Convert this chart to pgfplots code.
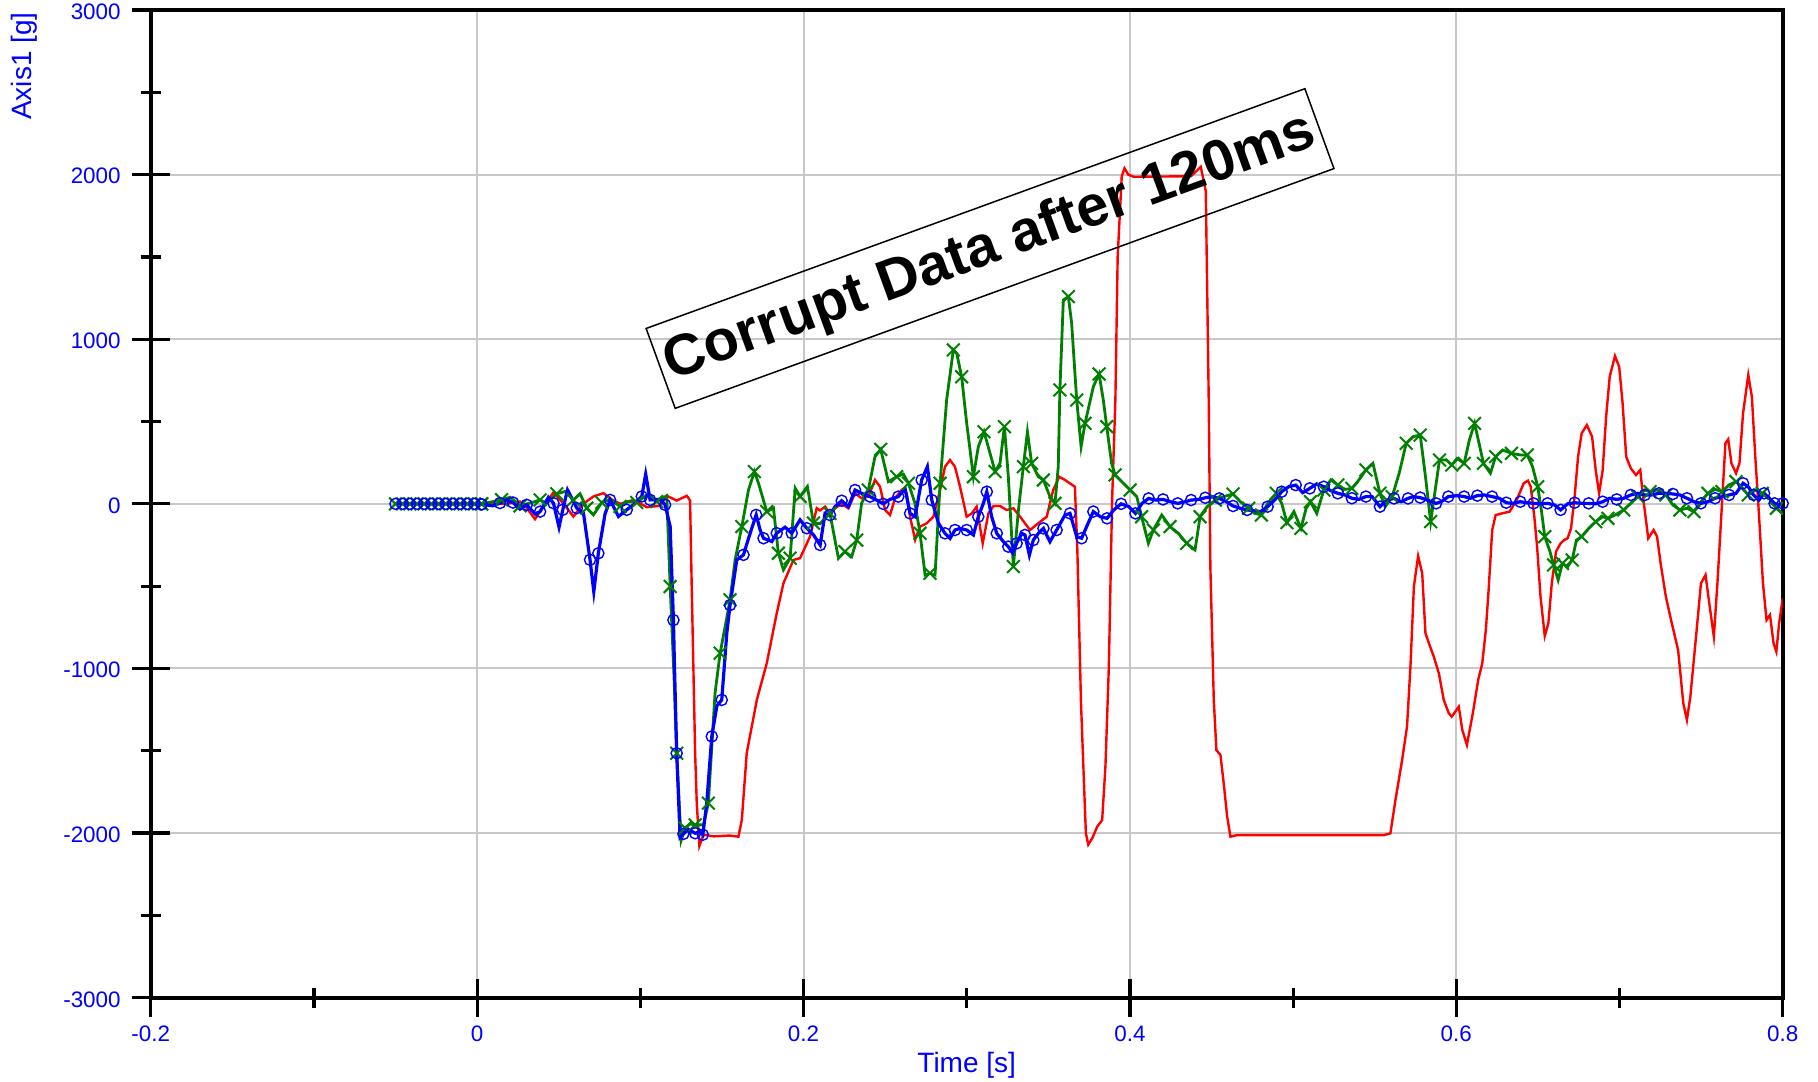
\documentclass[border=0pt]{standalone}
\usepackage{fontspec}
\setmainfont{Liberation Sans}
\usepackage{pgfplots}
\pgfplotsset{compat=1.18}
\definecolor{gridgray}{RGB}{200,200,200}
\definecolor{dgreen}{RGB}{0,128,0}
\begin{document}
\begin{tikzpicture}
\path[use as bounding box] (-75.35pt,-41.65pt) rectangle (833.65pt,498.85pt);
\begin{axis}[
  at={(0pt,0pt)}, anchor=south west,
  scale only axis, width=816pt, height=493.85pt,
  xmin=-0.2, xmax=0.8, ymin=-3000, ymax=3000,
  xtick={-0.2,0,0.2,0.4,0.6,0.8},
  ytick={-3000,-2000,-1000,0,1000,2000,3000},
  minor x tick num=1, minor y tick num=1,
  tick align=center, tick pos=left,
  major tick length=19pt, minor tick length=10pt,
  every tick/.style={black, line width=1.6pt},
  axis line style={line width=2pt, black},
  grid=major, major grid style={gridgray, line width=1pt},
  scaled ticks=false,
  /pgf/number format/assume math mode=true,
  /pgf/number format/1000 sep={},
  /pgf/number format/fixed,
  tick label style={font=\fontsize{11.2}{13}\selectfont, text=blue, inner sep=0pt},
  every x tick label/.append style={anchor=north, yshift=-4.35pt},
  every y tick label/.append style={anchor=east, xshift=-5.35pt, yshift=-0.8pt},
  xlabel={Time [s]}, ylabel={Axis1 [g]},
  every axis x label/.style={at={(axis description cs:0.5,-0.0759)}, anchor=base, inner sep=0pt, font=\fontsize{14}{16}\selectfont, text=blue},
  every axis y label/.style={at={(axis description cs:-0.0776,0.998)}, anchor=east, rotate=90, inner sep=0pt, font=\fontsize{14}{16}\selectfont, text=blue},
]
% red series
\addplot[red, line width=1.2pt] coordinates {
(-0.0500,0) (0.0180,0) (0.0230,10) (0.0263,14) (0.0300,-20) (0.0355,-93) (0.0410,-10) (0.0468,69)
(0.0530,0) (0.0590,-77) (0.0650,0) (0.0713,45) (0.0774,65) (0.0820,30) (0.0876,0) (0.0958,24)
(0.1040,-20) (0.1121,-12) (0.1162,49) (0.1223,20) (0.1285,49) (0.1305,20) (0.1315,-500) (0.1336,-1515)
(0.1346,-1820) (0.1362,-2078) (0.1387,-2010) (0.1450,-2020) (0.1550,-2015) (0.1601,-2022) (0.1622,-1921)
(0.1652,-1515) (0.1714,-1191) (0.1775,-968) (0.1836,-665) (0.1877,-483) (0.1938,-341) (0.1979,-330)
(0.2040,-198) (0.2081,-26) (0.2101,-40) (0.2132,-17) (0.2162,-58) (0.2193,-27) (0.2234,0) (0.2275,-27)
(0.2316,64) (0.2356,34) (0.2397,44) (0.2438,145) (0.2469,104) (0.2500,-37) (0.2530,-68) (0.2561,34)
(0.2601,84) (0.2632,64) (0.2653,-78) (0.2684,-219) (0.2714,-138) (0.2755,-118) (0.2796,-78) (0.2837,84)
(0.2867,226) (0.2898,266) (0.2928,226) (0.2959,104) (0.3000,-78) (0.3031,-58) (0.3061,-17) (0.3098,-240)
(0.3133,-58) (0.3164,-13) (0.3204,-13) (0.3245,-37) (0.3286,-27) (0.3327,-78) (0.3388,-159) (0.3439,-118)
(0.3490,-78) (0.3530,84) (0.3567,165) (0.3602,145) (0.3633,124) (0.3663,104) (0.3678,-280) (0.3700,-1200)
(0.3730,-2000) (0.3745,-2070) (0.3770,-2030) (0.3800,-1960) (0.3830,-1921) (0.3850,-1596) (0.3871,-987)
(0.3891,23) (0.3911,631) (0.3925,1500) (0.3950,1990) (0.3967,2038) (0.3990,2000) (0.4023,1987)
(0.4374,1990) (0.4434,2047) (0.4465,1900) (0.4483,631) (0.4493,-382) (0.4514,-1192) (0.4530,-1496)
(0.4555,-1526) (0.4575,-1700) (0.4596,-1900) (0.4616,-2022) (0.4657,-2012) (0.5556,-2012) (0.5596,-2002)
(0.5627,-1800) (0.5668,-1556) (0.5698,-1353) (0.5719,-989) (0.5740,-503) (0.5766,-317) (0.5791,-422)
(0.5811,-786) (0.5832,-847) (0.5862,-928) (0.5893,-1029) (0.5923,-1191) (0.5954,-1272) (0.5972,-1293)
(0.6015,-1232) (0.6037,-1374) (0.6065,-1465) (0.6101,-1273) (0.6134,-1070) (0.6159,-969) (0.6181,-766)
(0.6198,-523) (0.6220,-159) (0.6241,-68) (0.6284,-57) (0.6327,-47) (0.6370,23) (0.6413,125) (0.6439,141)
(0.6456,104) (0.6478,-78) (0.6495,-260) (0.6516,-564) (0.6542,-803) (0.6564,-726) (0.6585,-483)
(0.6611,-290) (0.6639,-240) (0.6660,-220) (0.6682,-209) (0.6703,-149) (0.6725,44) (0.6746,286)
(0.6768,428) (0.6800,479) (0.6832,408) (0.6854,206) (0.6875,64) (0.6897,206) (0.6918,530) (0.6940,772)
(0.6972,898) (0.6998,833) (0.7019,610) (0.7041,286) (0.7069,216) (0.7101,175) (0.7127,206) (0.7144,44)
(0.7176,-209) (0.7209,-159) (0.7230,-199) (0.7252,-362) (0.7284,-564) (0.7316,-706) (0.7359,-888)
(0.7391,-1212) (0.7413,-1313) (0.7434,-1171) (0.7467,-827) (0.7499,-483) (0.7527,-432) (0.7553,-625)
(0.7578,-807) (0.7600,-483) (0.7628,3) (0.7649,368) (0.7666,392) (0.7686,246) (0.7714,186) (0.7735,246)
(0.7757,550) (0.7789,783) (0.7811,651) (0.7832,286) (0.7854,-57) (0.7879,-483) (0.7901,-706) (0.7922,-675)
(0.7944,-847) (0.7961,-898) (0.7978,-726) (0.8000,-574)
};
% green series, pre-trigger
\addplot[dgreen, line width=1.4pt, mark=x, mark size=4.5pt, mark options={line width=1pt}] coordinates {
(-0.0500,0) (-0.0456,0) (-0.0412,0) (-0.0368,0) (-0.0324,0) (-0.0280,0) (-0.0236,0) (-0.0192,0)
(-0.0148,0) (-0.0104,0) (-0.0060,0) (-0.0016,0) (0.0028,0)
};
% green series, main
\addplot[dgreen, line width=1.4pt, mark=x, mark size=4.5pt, mark repeat=2, mark options={line width=1pt}] coordinates {
(0.0028,0) (0.0100,14) (0.0150,25) (0.0202,40) (0.0263,-12) (0.0335,8) (0.0386,24) (0.0427,4) (0.0488,61)
(0.0539,75) (0.0590,24) (0.0631,61) (0.0672,-26) (0.0713,-67) (0.0764,8) (0.0815,28) (0.0876,-16)
(0.0927,14) (0.0978,8) (0.1040,55) (0.1101,14) (0.1162,49) (0.1183,-502) (0.1207,-1059) (0.1223,-1515)
(0.1250,-2045) (0.1274,-1970) (0.1305,-1944) (0.1336,-1950) (0.1387,-1950) (0.1417,-1818) (0.1458,-1150)
(0.1489,-907) (0.1520,-745) (0.1550,-583) (0.1581,-340) (0.1622,-138) (0.1663,85) (0.1699,196)
(0.1724,126) (0.1775,-47) (0.1816,-26) (0.1846,-300) (0.1877,-401) (0.1918,-330) (0.1949,95) (0.1979,45)
(0.2024,105) (0.2061,-117) (0.2102,-120) (0.2162,-58) (0.2214,-331) (0.2254,-290) (0.2295,-321)
(0.2326,-220) (0.2356,3) (0.2397,84) (0.2438,287) (0.2473,331) (0.2520,135) (0.2571,165) (0.2612,181)
(0.2643,125) (0.2683,3) (0.2714,-179) (0.2745,-432) (0.2775,-422) (0.2806,-432) (0.2837,125) (0.2877,631)
(0.2918,935) (0.2939,914) (0.2969,772) (0.3000,489) (0.3041,165) (0.3071,347) (0.3106,438) (0.3143,307)
(0.3174,196) (0.3204,246) (0.3231,469) (0.3255,165) (0.3286,-381) (0.3317,-37) (0.3347,226) (0.3372,438)
(0.3398,246) (0.3439,165) (0.3470,145) (0.3510,44) (0.3541,3) (0.3561,226) (0.3571,692) (0.3592,1238)
(0.3623,1259) (0.3643,1097) (0.3674,631) (0.3701,347) (0.3725,489) (0.3776,712) (0.3811,789) (0.3837,631)
(0.3858,469) (0.3888,246) (0.3909,176) (0.3950,135) (0.4001,84) (0.4042,44) (0.4072,-78) (0.4113,-240)
(0.4144,-159) (0.4195,-68) (0.4246,-138) (0.4297,-179) (0.4348,-240) (0.4399,-280) (0.4430,-78)
(0.4473,-17) (0.4524,23) (0.4575,44) (0.4632,60) (0.4677,13) (0.4728,-27) (0.4769,-58) (0.4806,-68)
(0.4844,3) (0.4897,64) (0.4930,3) (0.4962,-114) (0.5005,-47) (0.5048,-149) (0.5080,-27) (0.5106,13)
(0.5145,-58) (0.5188,84) (0.5231,145) (0.5274,115) (0.5317,88) (0.5360,94) (0.5403,145) (0.5446,206)
(0.5489,246) (0.5532,64) (0.5564,-17) (0.5607,44) (0.5650,186) (0.5693,368) (0.5736,408) (0.5779,418)
(0.5811,165) (0.5843,-108) (0.5865,44) (0.5897,266) (0.5940,266) (0.5972,236) (0.6005,276) (0.6048,246)
(0.6080,388) (0.6112,489) (0.6144,347) (0.6166,246) (0.6209,186) (0.6241,287) (0.6284,327) (0.6338,307)
(0.6392,297) (0.6435,297) (0.6467,226) (0.6499,104) (0.6521,-37) (0.6542,-199) (0.6574,-290)
(0.6596,-371) (0.6624,-463) (0.6650,-362) (0.6682,-382) (0.6710,-341) (0.6736,-220) (0.6768,-199)
(0.6811,-149) (0.6854,-108) (0.6897,-78) (0.6929,-88) (0.6972,-68) (0.7026,-37) (0.7069,3) (0.7112,44)
(0.7155,84) (0.7187,74) (0.7230,84) (0.7284,54) (0.7327,-7) (0.7370,-37) (0.7413,-27) (0.7456,-47)
(0.7499,13) (0.7542,64) (0.7585,88) (0.7628,74) (0.7671,115) (0.7714,135) (0.7746,104) (0.7789,54)
(0.7832,84) (0.7875,64) (0.7918,34) (0.7961,-27) (0.8000,-58)
};
% blue series, pre-trigger
\addplot[blue, line width=1.6pt, mark=o, mark size=2.8pt, mark options={line width=0.7pt}] coordinates {
(-0.0500,0) (-0.0456,0) (-0.0412,0) (-0.0368,0) (-0.0324,0) (-0.0280,0) (-0.0236,0) (-0.0192,0)
(-0.0148,0) (-0.0104,0) (-0.0060,0) (-0.0016,0) (0.0028,-3)
};
% blue series, main
\addplot[blue, line width=1.6pt, mark=o, mark size=2.8pt, mark repeat=2, mark options={line width=0.7pt}] coordinates {
(0.0028,-3) (0.0096,-12) (0.0140,5) (0.0182,24) (0.0220,8) (0.0263,-32) (0.0304,-6) (0.0355,-61)
(0.0386,-47) (0.0437,40) (0.0468,4) (0.0502,-142) (0.0525,-36) (0.0554,85) (0.0611,-26) (0.0652,-57)
(0.0692,-340) (0.0715,-534) (0.0743,-300) (0.0784,-61) (0.0815,24) (0.0866,-77) (0.0917,-36) (0.0958,-6)
(0.1009,45) (0.1033,181) (0.1060,24) (0.1121,28) (0.1152,-6) (0.1183,-138) (0.1203,-706) (0.1209,-970)
(0.1223,-1515) (0.1244,-2025) (0.1264,-2005) (0.1295,-1977) (0.1336,-2001) (0.1366,-1991) (0.1383,-2010)
(0.1407,-1818) (0.1438,-1413) (0.1469,-1228) (0.1499,-1191) (0.1530,-786) (0.1550,-615) (0.1591,-341)
(0.1632,-310) (0.1673,-179) (0.1710,-67) (0.1734,-158) (0.1755,-209) (0.1806,-229) (0.1836,-178)
(0.1887,-142) (0.1928,-178) (0.1979,-97) (0.2020,-148) (0.2061,-188) (0.2102,-250) (0.2132,-58)
(0.2162,-68) (0.2193,-17) (0.2234,19) (0.2275,-17) (0.2316,84) (0.2356,64) (0.2408,44) (0.2448,23)
(0.2489,0) (0.2530,27) (0.2581,44) (0.2622,94) (0.2653,-58) (0.2684,-78) (0.2724,145) (0.2759,226)
(0.2786,23) (0.2827,-118) (0.2867,-179) (0.2898,-210) (0.2928,-159) (0.2959,-149) (0.3000,-159)
(0.3041,-189) (0.3071,-78) (0.3102,3) (0.3123,74) (0.3153,-78) (0.3184,-179) (0.3225,-230) (0.3255,-260)
(0.3282,-300) (0.3306,-240) (0.3337,-179) (0.3357,-189) (0.3384,-311) (0.3408,-220) (0.3439,-179)
(0.3470,-149) (0.3510,-230) (0.3551,-159) (0.3602,-68) (0.3633,-58) (0.3674,-199) (0.3704,-209)
(0.3735,-138) (0.3776,-47) (0.3819,-78) (0.3860,-88) (0.3901,-37) (0.3946,0) (0.3993,-17) (0.4034,-58)
(0.4074,3) (0.4115,33) (0.4156,23) (0.4203,27) (0.4248,13) (0.4293,3) (0.4340,13) (0.4375,23) (0.4422,27)
(0.4462,37) (0.4504,44) (0.4548,33) (0.4591,13) (0.4632,-13) (0.4677,-27) (0.4718,-37) (0.4801,-47)
(0.4844,-17) (0.4887,23) (0.4930,74) (0.4973,104) (0.5016,114) (0.5059,68) (0.5102,94) (0.5145,121)
(0.5188,104) (0.5231,80) (0.5274,64) (0.5317,54) (0.5360,34) (0.5403,27) (0.5446,44) (0.5484,44)
(0.5532,-17) (0.5575,23) (0.5618,33) (0.5661,13) (0.5704,33) (0.5736,44) (0.5779,38) (0.5833,19)
(0.5876,3) (0.5908,13) (0.5951,44) (0.6005,50) (0.6048,44) (0.6086,34) (0.6129,50) (0.6172,54)
(0.6219,44) (0.6263,34) (0.6306,7) (0.6344,3) (0.6392,13) (0.6430,7) (0.6473,3) (0.6516,0) (0.6559,3)
(0.6602,-7) (0.6639,-37) (0.6682,0) (0.6725,7) (0.6768,3) (0.6811,3) (0.6854,0) (0.6897,13) (0.6940,34)
(0.6983,27) (0.7026,34) (0.7069,54) (0.7112,64) (0.7155,54) (0.7198,54) (0.7241,64) (0.7284,64)
(0.7327,60) (0.7370,54) (0.7413,34) (0.7456,13) (0.7499,3) (0.7542,13) (0.7585,34) (0.7628,44)
(0.7671,54) (0.7714,64) (0.7757,125) (0.7789,104) (0.7821,54) (0.7854,23) (0.7886,64) (0.7918,34)
(0.7950,3) (0.7983,-7) (0.8000,3)
};
\node[draw=black, line width=0.75pt, rotate=20, minimum width=350.5pt, minimum height=42.5pt, inner sep=0pt,
      font=\bfseries\fontsize{28.8}{34}\selectfont] at (axis cs:0.3143,1551) {Corrupt Data after 120ms};
\end{axis}
\end{tikzpicture}
\end{document}
